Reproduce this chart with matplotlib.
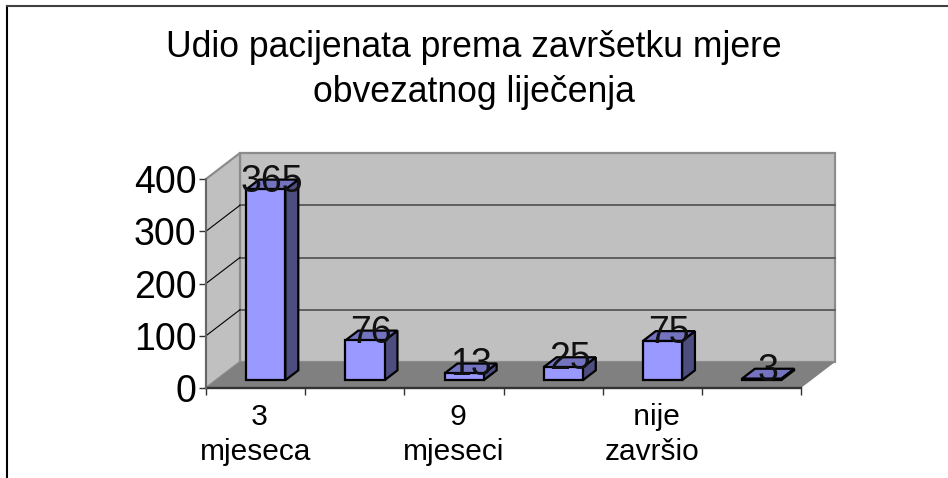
import matplotlib
matplotlib.use('Agg')
import matplotlib.pyplot as plt
from matplotlib.lines import Line2D
from matplotlib.patches import Polygon

plt.rcParams['font.family'] = ['Liberation Sans', 'DejaVu Sans']

# data
categories = [' 3\nmjeseca', '', ' 9\nmjeseci', '', ' nije\nzavršio', '']
values = [365, 76, 13, 25, 75, 3]
yticks = [0, 100, 200, 300, 400]
title_lines = ['Udio pacijenata prema završetku mjere', 'obvezatnog liječenja']

W, H = 948, 478
# front plane of the plot box, in pixels
X0, X1, Y0, Y1 = 206, 801, 388, 179
# depth of the box, in pixels on screen
DX, DY = 34, 26

fig = plt.figure(figsize=(W / 100, H / 100), dpi=100)
ax = fig.add_axes([X0 / W, 1 - Y0 / H, (X1 - X0) / W, (Y0 - Y1) / H])
ax.set_xlim(0, len(values))
ax.set_ylim(0, 400)
ax.set_facecolor('none')
for s in ax.spines.values():
    s.set_visible(False)

ddx = DX / ((X1 - X0) / len(values))
ddy = DY / ((Y0 - Y1) / 400)


def proj(x, y, d):
    # oblique projection, d = 0 front, d = 1 back wall
    return (x + d * ddx, y + d * ddy)


def face(pts, **kw):
    ax.add_patch(Polygon([proj(*p) for p in pts], closed=True, clip_on=False, **kw))


n = len(values)
wall = dict(edgecolor='#8c8c8c', linewidth=1.6)
# back wall, side wall, floor
face([(0, 0, 1), (n, 0, 1), (n, 400, 1), (0, 400, 1)], facecolor='#c0c0c0', zorder=1, **wall)
face([(0, 0, 0), (0, 0, 1), (0, 400, 1), (0, 400, 0)], facecolor='#c0c0c0', zorder=1, **wall)
face([(0, 0, 0), (n, 0, 0), (n, 0, 1), (0, 0, 1)], facecolor='#808080', edgecolor='none', zorder=1)

# gridlines on walls
for t in yticks[1:-1]:
    ax.plot(*zip(proj(0, t, 1), proj(n, t, 1)), color='#5f5f5f', lw=1.4, zorder=2, clip_on=False)
    ax.plot(*zip(proj(0, t, 0), proj(0, t, 1)), color='black', lw=0.8, zorder=2, clip_on=False)

# bars
bw = 0.395
d1, d2 = 0.3, 0.68
edge = dict(edgecolor='black', linewidth=1.6, joinstyle='miter')
for i, v in enumerate(values):
    l, r = i + 0.5 - bw / 2, i + 0.5 + bw / 2
    face([(r, 0, d1), (r, 0, d2), (r, v, d2), (r, v, d1)], facecolor='#4d4d80', zorder=3, **edge)
    face([(l, v, d1), (r, v, d1), (r, v, d2), (l, v, d2)], facecolor='#7373bf', zorder=3, **edge)
    face([(l, 0, d1), (r, 0, d1), (r, v, d1), (l, v, d1)], facecolor='#9999ff', zorder=3, **edge)

# value labels, centred over the top of each bar
for i, v in enumerate(values):
    x, y = proj(i + 0.5, v, (d1 + d2) / 2)
    ax.annotate(str(v), (x, y), xytext=(0, 3), textcoords='offset pixels', ha='center', va='center',
                fontsize=27, color='#111111', zorder=5, annotation_clip=False)

# axes lines and ticks
ax.plot([0, n], [0, 0], color='#333333', lw=1.7, zorder=4, clip_on=False)
ax.plot([0, 0], [0, 400], color='#666666', lw=1.4, zorder=4, clip_on=False)
ax.set_yticks(yticks)
ax.set_xticks(range(n + 1))
ax.set_xticklabels([])
ax.tick_params(axis='y', length=5, width=1, color='#333333', labelsize=27, pad=2)
ax.tick_params(axis='x', length=5, width=1, color='#333333')

for i, c in enumerate(categories):
    ax.annotate(c, (i + 0.5, 0), xytext=(0, -15), textcoords='offset pixels', ha='center', va='top',
                fontsize=21.5, linespacing=1.34, annotation_clip=False)

for line, base in zip(title_lines, (57, 102)):
    fig.text(474 / W, 1 - base / H, line, ha='center', va='baseline', fontsize=25.6)

# chart frame, only the left and top edges are in the crop
fig.add_artist(Line2D([7 / W, 7 / W], [0, 1 - 6 / H], color='black', lw=1.5))
fig.add_artist(Line2D([7 / W, 1], [1 - 6 / H, 1 - 6 / H], color='#404040', lw=1.5))

fig.savefig('out.png', dpi=100, facecolor='white')
